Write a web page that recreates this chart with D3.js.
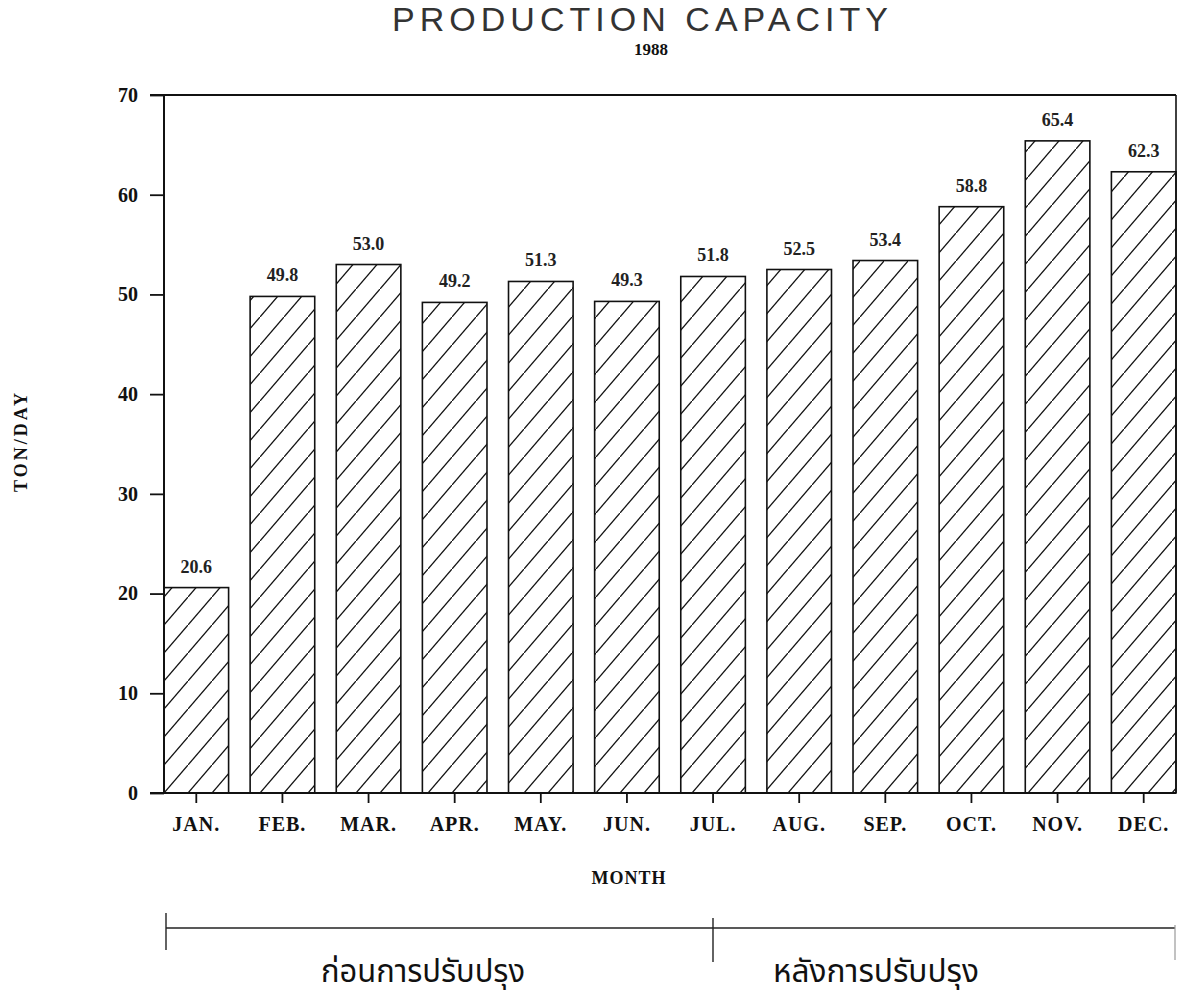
<!DOCTYPE html>
<html>
<head>
<meta charset="utf-8">
<script src="https://cdn.jsdelivr.net/npm/d3@7"></script>
<style>
  html, body { margin: 0; padding: 0; background: #fff; }
  svg { display: block; }
</style>
</head>
<body>
<svg id="chart" width="1178" height="996"></svg>
<script>
const months = ["JAN.", "FEB.", "MAR.", "APR.", "MAY.", "JUN.", "JUL.", "AUG.", "SEP.", "OCT.", "NOV.", "DEC."];
const capacity = [20.6, 49.8, 53.0, 49.2, 51.3, 49.3, 51.8, 52.5, 53.4, 58.8, 65.4, 62.3];
const valueLabels = ["20.6", "49.8", "53.0", "49.2", "51.3", "49.3", "51.8", "52.5", "53.4", "58.8", "65.4", "62.3"];
const yTicks = [0, 10, 20, 30, 40, 50, 60, 70];
const periodLabels = ["ก่อนการปรับปรุง", "หลังการปรับปรุง"];
const titleText = "PRODUCTION CAPACITY";
const subtitleText = "1988";
const xTitle = "MONTH";
const yTitle = "TON/DAY";

(function () {
const svg = d3.select("#chart");
const pLeft = 164, pRight = 1176, pTop = 95, pBottom = 793;
const serif = "'Liberation Serif', 'DejaVu Serif', serif";

const x = d3.scaleBand().domain(months).range([pLeft, pRight]).paddingInner(0.25).paddingOuter(0);
const y = d3.scaleLinear().domain([0, 70]).range([pBottom, pTop]);

// hatch pattern
const defs = svg.append("defs");
const pw = 24, ph = 28;
const pat = defs.append("pattern")
  .attr("id", "hatch").attr("patternUnits", "userSpaceOnUse")
  .attr("width", pw).attr("height", ph).attr("x", pLeft).attr("y", pBottom);
pat.append("line").attr("x1", -pw * 0.1).attr("y1", ph * 1.1).attr("x2", pw * 1.1).attr("y2", -ph * 0.1)
  .attr("stroke", "#111").attr("stroke-width", 1.3);

// title
svg.append("text").attr("x", 640).attr("y", 31).attr("text-anchor", "middle")
  .attr("font-family", "'Liberation Sans', Arial, sans-serif").attr("font-size", 34)
  .attr("fill", "#333").attr("textLength", 496).attr("lengthAdjust", "spacing")
  .text(titleText);
svg.append("text").attr("x", 651).attr("y", 55).attr("text-anchor", "middle")
  .attr("font-family", serif).attr("font-weight", "bold").attr("font-size", 17)
  .attr("fill", "#111").text(subtitleText);

// bars
svg.append("g").selectAll("rect").data(capacity).join("rect")
  .attr("x", (d, i) => x(months[i]))
  .attr("y", d => y(d))
  .attr("width", x.bandwidth())
  .attr("height", d => y(0) - y(d))
  .attr("fill", "url(#hatch)")
  .attr("stroke", "#111").attr("stroke-width", 1.6);

// value labels
svg.append("g").selectAll("text").data(capacity).join("text")
  .attr("x", (d, i) => x(months[i]) + x.bandwidth() / 2)
  .attr("y", d => y(d) - 15)
  .attr("text-anchor", "middle")
  .attr("font-family", serif).attr("font-weight", "bold").attr("font-size", 18)
  .attr("fill", "#222")
  .text((d, i) => valueLabels[i]);

// y axis
const yAxis = svg.append("g").attr("transform", `translate(${pLeft},0)`)
  .call(d3.axisLeft(y).tickValues(yTicks).tickSize(14).tickPadding(12).tickFormat(d3.format("d")));
yAxis.select(".domain").remove();
yAxis.selectAll(".tick line").attr("stroke", "#111").attr("stroke-width", 1.8);
yAxis.selectAll("text").attr("font-family", serif).attr("font-weight", "bold").attr("font-size", 20).attr("fill", "#111");

// frame lines
svg.append("line").attr("x1", pLeft).attr("x2", pLeft).attr("y1", pTop).attr("y2", pBottom).attr("stroke", "#111").attr("stroke-width", 2);
svg.append("line").attr("x1", pRight).attr("x2", pRight).attr("y1", pTop).attr("y2", pBottom).attr("stroke", "#111").attr("stroke-width", 1.6);
svg.append("line").attr("x1", pLeft - 14).attr("x2", pRight).attr("y1", y(70)).attr("y2", y(70)).attr("stroke", "#111").attr("stroke-width", 2);

// x axis
const xAxis = svg.append("g").attr("transform", `translate(0,${pBottom})`)
  .call(d3.axisBottom(x).tickSize(10).tickPadding(14));
xAxis.select(".domain").remove();
xAxis.selectAll(".tick line").attr("stroke", "#111").attr("stroke-width", 1.8);
xAxis.selectAll("text").attr("font-family", serif).attr("font-weight", "bold").attr("font-size", 20)
  .attr("letter-spacing", 1).attr("fill", "#111");
svg.append("line").attr("x1", pLeft - 14).attr("x2", pRight).attr("y1", pBottom).attr("y2", pBottom).attr("stroke", "#111").attr("stroke-width", 2);

// axis titles
svg.append("text").attr("x", 629).attr("y", 884).attr("text-anchor", "middle")
  .attr("font-family", serif).attr("font-weight", "bold").attr("font-size", 18).attr("letter-spacing", 1)
  .attr("fill", "#111").text(xTitle);
svg.append("text").attr("transform", "translate(27,441) rotate(-90)").attr("text-anchor", "middle")
  .attr("font-family", serif).attr("font-weight", "bold").attr("font-size", 18).attr("letter-spacing", 3)
  .attr("fill", "#111").text(yTitle);

// period bracket
const xs = [pLeft + 2, 713, pRight - 1];
svg.append("line").attr("x1", xs[0]).attr("x2", xs[2]).attr("y1", 928).attr("y2", 928).attr("stroke", "#222").attr("stroke-width", 1.4);
svg.append("line").attr("x1", xs[0]).attr("x2", xs[0]).attr("y1", 913).attr("y2", 950).attr("stroke", "#222").attr("stroke-width", 1.4);
svg.append("line").attr("x1", xs[1]).attr("x2", xs[1]).attr("y1", 918).attr("y2", 962).attr("stroke", "#222").attr("stroke-width", 1.4);
svg.append("line").attr("x1", xs[2]).attr("x2", xs[2]).attr("y1", 925).attr("y2", 960).attr("stroke", "#999").attr("stroke-width", 1.2);
const thai = "'Noto Sans Thai', 'Noto Sans Thai Looped', 'Loma', 'Garuda', 'Tlwg Typo', 'Noto Sans', sans-serif";
svg.append("text").attr("x", 423).attr("y", 982).attr("text-anchor", "middle")
  .attr("font-family", thai).attr("font-size", 32).attr("fill", "#111")
  .attr("textLength", 204).attr("lengthAdjust", "spacingAndGlyphs").text(periodLabels[0]);
svg.append("text").attr("x", 876).attr("y", 982).attr("text-anchor", "middle")
  .attr("font-family", thai).attr("font-size", 32).attr("fill", "#111")
  .attr("textLength", 206).attr("lengthAdjust", "spacingAndGlyphs").text(periodLabels[1]);
})();
</script>
</body>
</html>
